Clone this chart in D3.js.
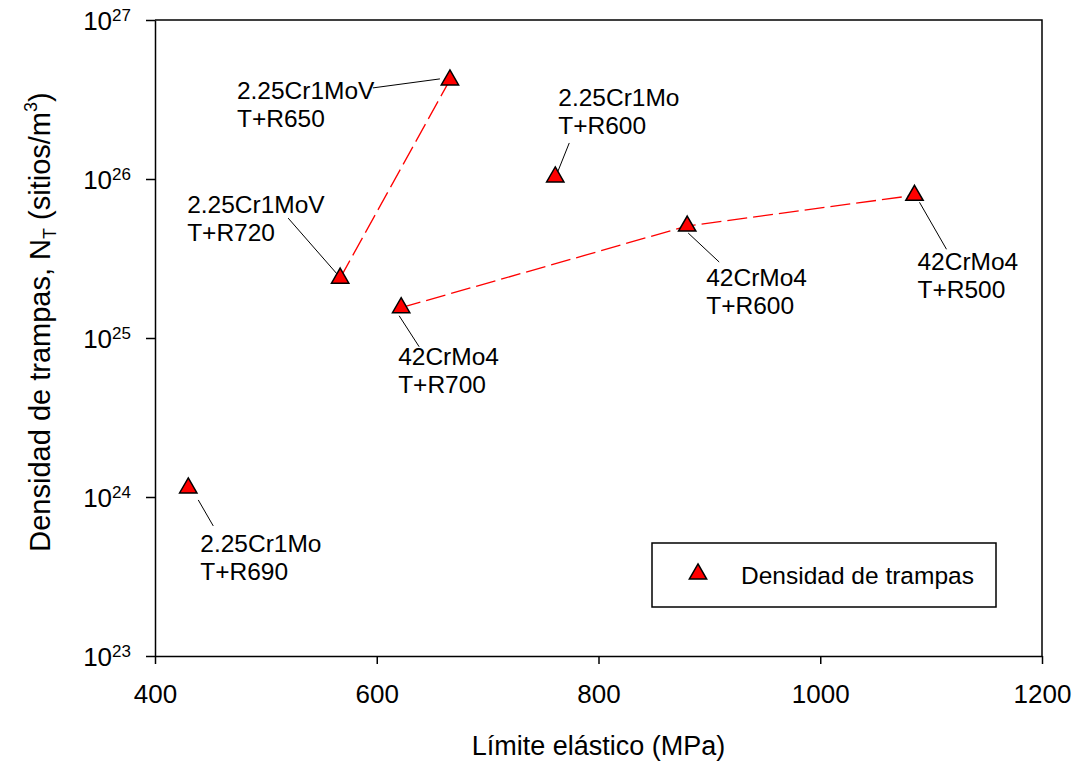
<!DOCTYPE html>
<html><head><meta charset="utf-8">
<script src="https://cdn.jsdelivr.net/npm/d3@7"></script>
<style>body{margin:0;background:#fff}svg{display:block;font-family:Arial,"Liberation Sans",sans-serif}</style>
</head><body><svg id="c" width="1074" height="762"></svg>
<script>
// ---- data ----
const alloys = ["2.25Cr1Mo","2.25Cr1MoV","42CrMo4","2.25Cr1MoV","2.25Cr1Mo","42CrMo4","42CrMo4"];
const treatments = ["T+R690","T+R720","T+R700","T+R650","T+R600","T+R600","T+R500"];
const yieldStrength = [430,567,622,666,761,880,1085];
const trapDensity = [1.14e24,2.38e25,1.55e25,4.2e26,1.03e26,5.06e25,7.9e25];
const seriesLines = [[1,3],[2,5,6]];
const xTicks = [400,600,800,1000,1200];
const yTickExponents = [23,24,25,26,27];
const legendLabel = "Densidad de trampas";
const xTitle = "Límite elástico (MPa)";

// ---- layout (pixel offsets of annotation text / leader lines from each point) ----
const labelLayout = [
  {tx:12, ty:64, l:[10,12,25,38]},
  {tx:-153, ty:-65, l:[-3,-4,-52,-60]},
  {tx:-3, ty:57, l:[-2,8,18,39]},
  {tx:-213, ty:19, l:[-10,-1,-77,8]},
  {tx:3, ty:-71, l:[2,-4,14,-34]},
  {tx:19, ty:60, l:[1,7,32,36]},
  {tx:3, ty:75, l:[5,7,32,54]}
];

const svg = d3.select("#c");
const L=155, R=1042, T=20, B=656;
const x = d3.scaleLinear().domain([400,1200]).range([L,R]);
const y = d3.scaleLog().domain([1e23,1e27]).range([B,T]);

const pts = yieldStrength.map((v,i)=>({x:v,y:trapDensity[i],i}));

// frame (top & right)
svg.append("path").attr("d",`M${L},${T}H${R}V${B}`).attr("fill","none").attr("stroke","#000").attr("stroke-width",1.5);

// x axis
const xa = svg.append("g").attr("transform",`translate(0,${B})`)
  .call(d3.axisBottom(x).tickValues(xTicks).tickSize(8).tickSizeOuter(0).tickFormat(d3.format("d")));
xa.select(".domain").attr("stroke-width",1.5);
xa.selectAll(".tick line").attr("stroke-width",1.5);
xa.selectAll(".tick text").attr("font-size",26).attr("font-family",null).attr("y",47).attr("dy",null).attr("fill","#000");

// y axis
const ya = svg.append("g").attr("transform",`translate(${L},0)`)
  .call(d3.axisLeft(y).tickValues(yTickExponents.map(e=>Math.pow(10,e))).tickSize(9).tickSizeOuter(0).tickFormat(""));
ya.select(".domain").attr("stroke-width",1.5);
ya.selectAll(".tick line").attr("stroke-width",1.5);
ya.selectAll(".tick text").remove();
yTickExponents.forEach(e=>{
  const t = svg.append("text").attr("x",L-24).attr("y",y(Math.pow(10,e))+10)
    .attr("text-anchor","end").attr("font-size",26).attr("fill","#000");
  t.append("tspan").text("10");
  t.append("tspan").attr("dy",-9).attr("font-size",17).text(String(e));
});

// axis titles
svg.append("text").attr("x",(L+R)/2).attr("y",755).attr("text-anchor","middle")
  .attr("font-size",27).text(xTitle);
const yt = svg.append("text").attr("transform",`translate(50,${(T+B)/2-16}) rotate(-90)`)
  .attr("text-anchor","middle").attr("font-size",29);
yt.append("tspan").text("Densidad de trampas, N");
yt.append("tspan").attr("font-size",18).attr("dy",6).text("T");
yt.append("tspan").attr("dy",-6).text(" (sitios/m");
yt.append("tspan").attr("font-size",18).attr("dy",-13).text("3");
yt.append("tspan").attr("dy",13).text(")");

// dashed lines
const line = d3.line().x(d=>x(d.x)).y(d=>y(d.y));
seriesLines.forEach(g=>{
  svg.append("path").datum(g.map(i=>pts[i])).attr("d",line)
    .attr("fill","none").attr("stroke","#ff0000").attr("stroke-width",1.3).attr("stroke-dasharray","20,6");
});

// leader lines & labels
pts.forEach((p,i)=>{
  const px=x(p.x), py=y(p.y), lay=labelLayout[i];
  svg.append("line").attr("x1",px+lay.l[0]).attr("y1",py+lay.l[1]).attr("x2",px+lay.l[2]).attr("y2",py+lay.l[3])
    .attr("stroke","#000").attr("stroke-width",1);
  const t = svg.append("text").attr("font-size",24.5).attr("fill","#000");
  t.append("tspan").attr("x",px+lay.tx).attr("y",py+lay.ty).text(alloys[i]);
  t.append("tspan").attr("x",px+lay.tx).attr("y",py+lay.ty+28).text(treatments[i]);
});

// markers
const tri = d3.symbol().type(d3.symbolTriangle).size(130);
svg.selectAll(".m").data(pts).join("path").attr("class","m")
  .attr("transform",d=>`translate(${x(d.x)},${y(d.y)})`).attr("d",tri)
  .attr("fill","#ff0000").attr("stroke","#000").attr("stroke-width",1.5);

// legend
svg.append("rect").attr("x",652).attr("y",543).attr("width",344).attr("height",64)
  .attr("fill","#fff").attr("stroke","#000").attr("stroke-width",1.5);
svg.append("path").attr("transform","translate(698,574)").attr("d",tri)
  .attr("fill","#ff0000").attr("stroke","#000").attr("stroke-width",1.5);
svg.append("text").attr("x",741).attr("y",584).attr("font-size",24.5).text(legendLabel);
</script></body></html>
